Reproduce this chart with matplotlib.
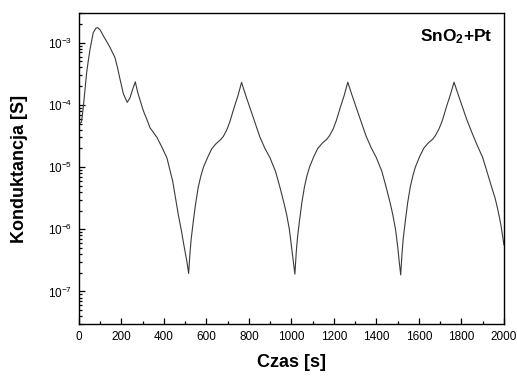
import matplotlib
matplotlib.use("Agg")
import matplotlib.pyplot as plt
from matplotlib.ticker import LogLocator, MultipleLocator

plt.rcParams['font.family'] = ['Liberation Sans', 'DejaVu Sans']
plt.rcParams['mathtext.fontset'] = 'custom'
plt.rcParams['mathtext.rm'] = 'Liberation Sans'
plt.rcParams['mathtext.it'] = 'Liberation Sans:italic'
plt.rcParams['mathtext.bf'] = 'Liberation Sans:bold'

# time [s] and conductance [S]
czas = [
    # first exposure
    0, 6, 12, 20, 28, 36, 44, 52, 60, 67, 80, 88, 100, 114, 130, 146, 169, 181,
    193, 209, 227, 240, 253, 265, 276, 287, 303, 319, 334, 350, 367, 390, 414,
    441, 467, 482, 496, 508, 516,
    # cycle 2
    522, 528, 538, 549, 561, 573, 585, 604, 624, 646, 666, 679, 696, 711, 731,
    748, 765, 785, 805, 825, 852, 875, 899, 925, 946, 965, 977, 990, 1001,
    1010, 1016,
    # cycle 3
    1022, 1028, 1038, 1049, 1061, 1073, 1085, 1104, 1124, 1146, 1166, 1179,
    1196, 1211, 1231, 1248, 1265, 1285, 1305, 1325, 1352, 1375, 1399, 1425,
    1446, 1465, 1477, 1490, 1500, 1508, 1514,
    # cycle 4
    1520, 1526, 1536, 1547, 1559, 1571, 1583, 1602, 1622, 1644, 1664, 1677,
    1694, 1710, 1730, 1747, 1765, 1785, 1805, 1825, 1852, 1875, 1899, 1919,
    1940, 1958, 1972, 1985, 2000,
]
konduktancja = [
    5.1e-5, 5.1e-5, 5.3e-5, 9.0e-5, 1.7e-4, 3.3e-4, 5.2e-4, 7.9e-4, 1.1e-3,
    1.45e-3, 1.72e-3, 1.75e-3, 1.6e-3, 1.3e-3, 1.05e-3, 8.4e-4, 5.8e-4,
    4.0e-4, 2.6e-4, 1.5e-4, 1.1e-4, 1.3e-4, 1.8e-4, 2.35e-4, 1.6e-4, 1.2e-4,
    8.0e-5, 5.9e-5, 4.3e-5, 3.6e-5, 3.0e-5, 2.1e-5, 1.4e-5, 5.9e-6, 1.75e-6,
    9.5e-7, 5.0e-7, 3.0e-7, 1.95e-7,
    4.0e-7, 7.0e-7, 1.35e-6, 2.6e-6, 4.7e-6, 7.1e-6, 9.8e-6, 1.4e-5, 1.95e-5,
    2.4e-5, 2.75e-5, 3.1e-5, 4.0e-5, 5.5e-5, 9.3e-5, 1.4e-4, 2.3e-4, 1.41e-4,
    8.9e-5, 5.6e-5, 3.0e-5, 2.0e-5, 1.41e-5, 8.5e-6, 4.7e-6, 2.6e-6, 1.74e-6,
    1.0e-6, 5.0e-7, 2.8e-7, 1.9e-7,
    4.1e-7, 7.2e-7, 1.4e-6, 2.7e-6, 4.8e-6, 7.3e-6, 1.0e-5, 1.45e-5, 2.0e-5,
    2.45e-5, 2.8e-5, 3.2e-5, 4.1e-5, 5.6e-5, 9.4e-5, 1.42e-4, 2.32e-4, 1.43e-4,
    9.0e-5, 5.7e-5, 3.1e-5, 2.05e-5, 1.43e-5, 8.6e-6, 4.7e-6, 2.6e-6, 1.7e-6,
    9.8e-7, 5.2e-7, 2.8e-7, 1.85e-7,
    4.0e-7, 7.1e-7, 1.38e-6, 2.7e-6, 4.8e-6, 7.2e-6, 1.0e-5, 1.45e-5, 2.0e-5,
    2.45e-5, 2.8e-5, 3.2e-5, 4.1e-5, 5.6e-5, 9.5e-5, 1.43e-4, 2.32e-4, 1.45e-4,
    9.2e-5, 5.8e-5, 3.4e-5, 2.2e-5, 1.45e-5, 8.7e-6, 5.0e-6, 3.2e-6, 2.0e-6,
    1.2e-6, 5.6e-7,
]

fig = plt.figure(figsize=(5.17, 3.76), dpi=100)
ax = fig.add_axes([0.1528, 0.1383, 0.822, 0.827])

ax.plot(czas, konduktancja, color='#3a3a3a', linewidth=0.8)

ax.set_yscale('log')
ax.set_xlim(0, 2000)
ax.set_ylim(3e-8, 3e-3)
ax.xaxis.set_major_locator(MultipleLocator(200))
ax.xaxis.set_minor_locator(MultipleLocator(100))
ax.yaxis.set_major_locator(LogLocator(base=10, numticks=20))
ax.yaxis.set_minor_locator(LogLocator(base=10, subs=range(2, 10), numticks=20))

ax.tick_params(which='both', direction='in', top=False, right=False,
               labelsize=8.5, width=0.9, pad=5)
ax.tick_params(which='major', length=4.5)
ax.tick_params(which='minor', length=2.5)
for s in ax.spines.values():
    s.set_linewidth(1.0)

ax.set_xlabel('Czas [s]', fontsize=13, fontweight='bold', labelpad=8)
ax.set_ylabel('Konduktancja [S]', fontsize=13, fontweight='bold', labelpad=14)

ax.text(0.972, 0.955, r'SnO$_{\mathbf{2}}$+Pt', transform=ax.transAxes,
        ha='right', va='top', fontsize=12.5, fontweight='bold')

fig.savefig('out.png', dpi=100)
